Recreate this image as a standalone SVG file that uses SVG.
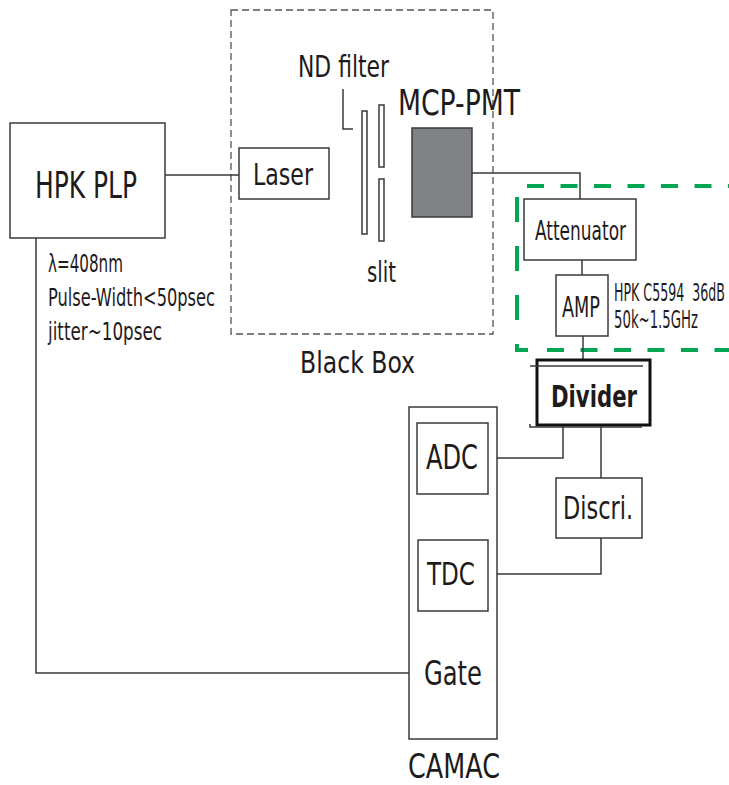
<svg xmlns="http://www.w3.org/2000/svg" width="729" height="785" viewBox="0 0 729 785">
<style>
text{font-family:"Liberation Sans Narrow","DejaVu Sans Condensed","Liberation Sans",sans-serif;fill:#1e1b1c;}
.box{fill:#fff;stroke:#3a3a3a;stroke-width:1.5;}
.ln{fill:none;stroke:#3a3a3a;stroke-width:1.5;}
.green{fill:none;stroke:#00a651;stroke-width:4;}
</style>
<rect width="729" height="785" fill="#fff"/>
<g id="blackbox">
<rect x="231" y="10" width="262" height="324" fill="none" stroke="#555" stroke-width="1.3" stroke-dasharray="7 4"/>
<text x="300" y="373" font-size="31" textLength="115" lengthAdjust="spacingAndGlyphs">Black Box</text>
</g>
<g id="green-group">
<line class="green" x1="527" y1="186" x2="729" y2="186" stroke-dasharray="17 16.5"/>
<line class="green" x1="517" y1="197" x2="517" y2="340" stroke-dasharray="25 24"/>
<path class="green" d="M517,344 V350 H528"/>
<line class="green" x1="547" y1="350" x2="729" y2="350" stroke-dasharray="17 16.5"/>
</g>
<g id="connectors">
<line class="ln" x1="165" y1="175" x2="239" y2="175"/>
<polyline class="ln" points="36,238 36,673 416,673"/>
<polyline class="ln" points="472,173 580,173 580,199"/>
<line class="ln" x1="582" y1="260" x2="582" y2="275"/>
<line class="ln" x1="583" y1="336" x2="583" y2="360"/>
<polyline class="ln" points="563,425 563,458 488,458"/>
<line class="ln" x1="601" y1="425" x2="601" y2="478"/>
<polyline class="ln" points="601,538 601,574 488,574"/>
<polyline class="ln" points="343,89 343,129 353,129"/>
</g>
<g id="hpk-plp">
<rect class="box" x="10" y="123" width="155" height="115"/>
<text x="35" y="198" font-size="38" textLength="102" lengthAdjust="spacingAndGlyphs">HPK PLP</text>
</g>
<g id="plp-spec">
<text x="48" y="272" font-size="25" textLength="75" lengthAdjust="spacingAndGlyphs">λ=408nm</text>
<text x="48" y="306" font-size="25" textLength="167" lengthAdjust="spacingAndGlyphs">Pulse-Width&lt;50psec</text>
<text x="48" y="340" font-size="25" textLength="114" lengthAdjust="spacingAndGlyphs">jitter~10psec</text>
</g>
<g id="laser">
<rect class="box" x="239" y="148" width="90" height="51"/>
<text x="253" y="185" font-size="31" textLength="60" lengthAdjust="spacingAndGlyphs">Laser</text>
</g>
<g id="nd-filter">
<rect class="box" x="362" y="111" width="5" height="123" stroke-width="1.2"/>
<text x="298" y="77" font-size="31" textLength="91" lengthAdjust="spacingAndGlyphs">ND filter</text>
</g>
<g id="slit">
<rect class="box" x="379" y="105" width="5" height="62" stroke-width="1.2"/>
<rect class="box" x="379" y="179" width="5" height="62" stroke-width="1.2"/>
<text x="367" y="282" font-size="29" textLength="29" lengthAdjust="spacingAndGlyphs">slit</text>
</g>
<g id="mcp-pmt">
<rect x="412" y="128" width="60" height="89" fill="#808285" stroke="#3a3a3a" stroke-width="1.5"/>
<text x="398" y="115" font-size="35" textLength="122" lengthAdjust="spacingAndGlyphs">MCP-PMT</text>
</g>
<g id="attenuator">
<rect class="box" x="524" y="199" width="112" height="61"/>
<text x="535" y="240" font-size="26" textLength="91" lengthAdjust="spacingAndGlyphs">Attenuator</text>
</g>
<g id="amp">
<rect class="box" x="556" y="275" width="52" height="61"/>
<text x="562" y="317" font-size="29" textLength="38" lengthAdjust="spacingAndGlyphs">AMP</text>
<text x="614" y="301" font-size="24" textLength="111" lengthAdjust="spacingAndGlyphs" style="white-space:pre">HPK C5594  36dB</text>
<text x="614" y="328" font-size="24" textLength="84" lengthAdjust="spacingAndGlyphs">50k~1.5GHz</text>
</g>
<g id="divider">
<rect x="537" y="360" width="113" height="65" fill="#fff" stroke="#111" stroke-width="3"/>
<line class="ln" x1="530" y1="366" x2="643" y2="366" stroke-width="1.2"/>
<polyline class="ln" points="530,424 530,427 642,427" stroke-width="1.2"/>
<text x="551" y="407" font-size="31" font-weight="bold" textLength="86" lengthAdjust="spacingAndGlyphs">Divider</text>
</g>
<g id="discri">
<rect class="box" x="556" y="478" width="86" height="60"/>
<text x="563" y="519" font-size="32" textLength="70" lengthAdjust="spacingAndGlyphs">Discri.</text>
</g>
<g id="camac">
<rect class="box" x="409" y="407" width="88" height="332" fill="none"/>
<text x="408" y="778" font-size="33" textLength="92" lengthAdjust="spacingAndGlyphs">CAMAC</text>
</g>
<g id="adc">
<rect class="box" x="417" y="423" width="71" height="71"/>
<text x="426" y="469" font-size="34" textLength="52" lengthAdjust="spacingAndGlyphs">ADC</text>
</g>
<g id="tdc">
<rect class="box" x="418" y="540" width="70" height="71"/>
<text x="427" y="585" font-size="32" textLength="48" lengthAdjust="spacingAndGlyphs">TDC</text>
</g>
<g id="gate">
<text x="424" y="685" font-size="34" textLength="58" lengthAdjust="spacingAndGlyphs">Gate</text>
</g>
</svg>
